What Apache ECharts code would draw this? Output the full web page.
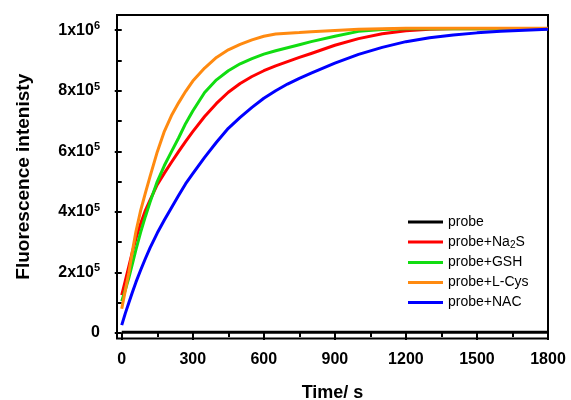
<!DOCTYPE html>
<html>
<head>
<meta charset="utf-8">
<script src="https://cdn.jsdelivr.net/npm/echarts@6/dist/echarts.min.js"></script>
<style>
html,body{margin:0;padding:0;background:#fff;}
#chart{width:571px;height:400px;}
</style>
</head>
<body>
<div id="chart"></div>
<script>
// time points (s)
var times = [0, 15, 30, 45, 60, 80, 100, 120, 150, 180, 210, 240, 270, 300, 350, 400, 450, 500, 550, 600, 650, 700, 750, 800, 900, 1000, 1100, 1200, 1300, 1400, 1500, 1600, 1700, 1800];

// fluorescence readings (x1000)
var probe = [3, 3, 3, 3, 3, 3, 3, 3, 3, 3, 3, 3, 3, 3, 3, 3, 3, 3, 3, 3, 3, 3, 3, 3, 3, 3, 3, 3, 3, 3, 3, 3, 3, 3];
var na2s  = [125, 172, 220, 268, 312, 362, 405, 440, 490, 528, 564, 599, 633, 665, 715, 758, 795, 824, 847, 866, 882, 896, 910, 923, 950, 972, 988, 998, 1003, 1005, 1005, 1005, 1005, 1005];
var gsh   = [105, 142, 182, 228, 275, 333, 385, 433, 500, 553, 599, 644, 692, 733, 794, 836, 866, 889, 906, 921, 932, 942, 952, 962, 980, 996, 1002, 1005, 1005, 1005, 1005, 1005, 1005, 1005];
var lcys  = [80, 140, 200, 270, 335, 405, 463, 518, 598, 666, 718, 760, 798, 832, 875, 910, 935, 953, 968, 980, 987, 990, 992, 995, 999, 1003, 1005, 1006, 1006, 1006, 1006, 1006, 1006, 1006];
var nac   = [26, 65, 100, 135, 168, 208, 246, 282, 330, 373, 414, 454, 493, 526, 580, 630, 676, 712, 745, 775, 800, 822, 841, 858, 891, 920, 943, 962, 975, 984, 991, 996, 1000, 1003];

var names = ['probe', 'probe+Na2S', 'probe+GSH', 'probe+L-Cys', 'probe+NAC'];
var colors = ['#000000', '#ff0000', '#11dd11', '#ff8a10', '#0000ff'];

var xTicks = [0, 300, 600, 900, 1200, 1500, 1800];
var xMinor = [150, 450, 750, 1050, 1350, 1650];
var yTicks = [0, 200000, 400000, 600000, 800000, 1000000];
var yTickLabels = ['0', '2x10{sup|5}', '4x10{sup|5}', '6x10{sup|5}', '8x10{sup|5}', '1x10{sup|6}'];
var yMinor = [100000, 300000, 500000, 700000, 900000];

var myChart = echarts.init(document.getElementById('chart'));

function pairs(vals){
	var out = [];
	for(var i=0;i<times.length;i++){
		out.push([times[i], vals[i]*1000]);
	}
	return out;
}

var allData = [probe, na2s, gsh, lcys, nac];
var series = [];
for(var i=0;i<names.length;i++){
	series.push({
		name: names[i],
		type: 'line',
		xAxisIndex: 0,
		yAxisIndex: 0,
		data: pairs(allData[i]),
		symbol: 'none',
		showSymbol: false,
		smooth: false,
		lineStyle: {color: colors[i], width: 3, join: 'round'},
		itemStyle: {color: colors[i]}
	});
}

var fontName = 'Liberation Sans, Arial, sans-serif';
var labelFont = {fontFamily: fontName, fontWeight: 'bold', fontSize: 16, color: '#000'};

var option = {
	animation: false,
	backgroundColor: '#fff',
	grid: {
		left: 117, right: 23, top: 15, bottom: 61.5,
		outerBoundsMode: 'none',
		containLabel: false,
		show: true, borderColor: '#000', borderWidth: 2, backgroundColor: 'transparent'
	},
	legend: {
		orient: 'vertical',
		left: 408,
		top: 214,
		padding: 0,
		icon: 'rect',
		itemWidth: 35,
		itemHeight: 3,
		itemGap: 4,
		data: names,
		formatter: function(name){
			if(name === 'probe+Na2S') return 'probe+Na{sub|2}S';
			return name;
		},
		textStyle: {
			fontFamily: fontName,
			fontSize: 14,
			lineHeight: 16,
			color: '#000',
			rich: {
				sub: {fontSize: 10, fontFamily: fontName, padding: [7, 0, 0, 0], color: '#000'}
			}
		}
	},
	xAxis: [
		{
			type: 'value',
			min: -20, max: 1800,
			position: 'bottom',
			name: 'Time/ s',
			nameLocation: 'middle',
			nameGap: 46,
			nameTextStyle: {fontFamily: fontName, fontWeight: 'bold', fontSize: 18, color: '#000'},
			axisLine: {show: false},
			splitLine: {show: false},
			axisTick: {show: true, customValues: xTicks, length: 7, lineStyle: {color: '#000', width: 2}},
			axisLabel: Object.assign({
				customValues: xTicks,
				margin: 13,
				formatter: function(v){ return String(v); }
			}, labelFont)
		},
		{
			type: 'value',
			min: -20, max: 1800,
			position: 'bottom',
			axisLine: {show: false},
			splitLine: {show: false},
			axisLabel: {show: false},
			axisTick: {show: true, customValues: xMinor, length: 4, lineStyle: {color: '#000', width: 2}}
		}
	],
	yAxis: [
		{
			type: 'value',
			min: -18000, max: 1050000,
			position: 'left',
			name: 'Fluorescence intenisty',
			nameLocation: 'middle',
			nameGap: 84,
			nameTextStyle: {fontFamily: fontName, fontWeight: 'bold', fontSize: 19, color: '#000'},
			axisLine: {show: false},
			splitLine: {show: false},
			axisTick: {show: true, customValues: yTicks, length: 7, lineStyle: {color: '#000', width: 2}},
			axisLabel: Object.assign({
				customValues: yTicks,
				margin: 17,
				formatter: function(v){
					var k = yTicks.indexOf(v);
					return k >= 0 ? yTickLabels[k] : '';
				},
				rich: {
					sup: {fontFamily: fontName, fontWeight: 'bold', fontSize: 11, color: '#000', padding: [0, 0, 8, 0]}
				}
			}, labelFont)
		},
		{
			type: 'value',
			min: -18000, max: 1050000,
			position: 'left',
			axisLine: {show: false},
			splitLine: {show: false},
			axisLabel: {show: false},
			axisTick: {show: true, customValues: yMinor, length: 4, lineStyle: {color: '#000', width: 2}}
		}
	],
	series: series
};

myChart.setOption(option);
</script>
</body>
</html>
